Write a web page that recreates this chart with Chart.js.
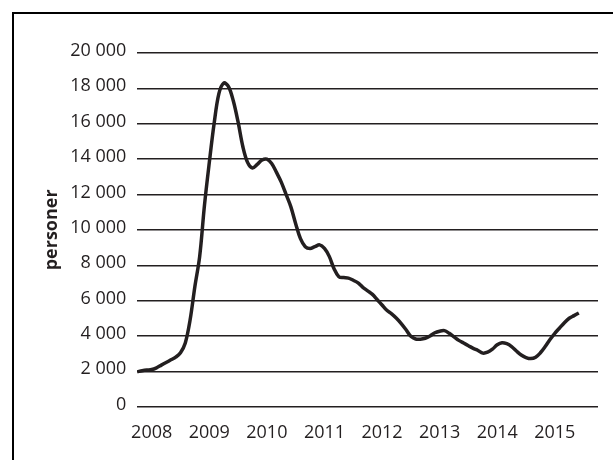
<!DOCTYPE html>
<html>
<head>
<meta charset="utf-8">
<script src="https://cdn.jsdelivr.net/npm/chart.js@4/dist/chart.umd.min.js"></script>
<style>
    html, body { margin: 0; padding: 0; background: #fff; }
    #wrap { position: relative; width: 613px; height: 460px; overflow: hidden; }
    #frame { position: absolute; left: 12px; top: 12px; width: 700px; height: 600px; border: 2px solid #000; }
    #chart { position: absolute; left: 0; top: 0; }
</style>
</head>
<body>
<div id="wrap">
    <div id="frame"></div>
    <canvas id="chart" width="613" height="460"></canvas>
</div>
<script>
// Months on the x axis: Oct 2007 .. Oct 2015
const firstYear = 2007;
const firstMonth = 10;
const monthCount = 97;

// Persons per month, from Oct 2007
const persons = [
    1980, 2030, 2070, 2100, 2200, 2350, 2500, 2650, 2800, 3050,
    3600, 4900, 6800, 8500, 11400, 13800, 16000, 17700, 18300, 18100,
    17300, 16100, 14700, 13800, 13500, 13700, 13950, 14000, 13750, 13250,
    12700, 12000, 11300, 10350, 9500, 9050, 8950, 9050, 9150, 8950,
    8500, 7800, 7350, 7300, 7270, 7150, 7000, 6750, 6550, 6350,
    6050, 5750, 5450, 5250, 5000, 4700, 4350, 3980, 3830, 3820,
    3870, 4000, 4180, 4270, 4300, 4150, 3950, 3750, 3600, 3450,
    3300, 3180, 3030, 3080, 3250, 3500, 3620, 3560, 3400, 3150,
    2920, 2780, 2720, 2800, 3050, 3400, 3800, 4150, 4450, 4750,
    5000, 5150, 5300
];

const yTitle = 'personer';
const yMin = 0;
const yMax = 20000;
const yStep = 2000;

const ink = '#231f20';
const font = "'Open Sans', 'Noto Sans', sans-serif";

// month labels like 2008-01
const months = [];
for (let i = 0; i < monthCount; i++) {
    const m = firstMonth - 1 + i;
    const y = firstYear + Math.floor(m / 12);
    const mm = (m % 12) + 1;
    months.push(y + '-' + (mm < 10 ? '0' + mm : mm));
}

function thousands(v) {
    return String(v).replace(/\B(?=(\d{3})+(?!\d))/g, ' ');
}

new Chart(document.getElementById('chart'), {
    type: 'line',
    data: {
        labels: months,
        datasets: [
            {
                data: persons,
                borderColor: ink,
                borderWidth: 3.5,
                pointRadius: 0,
                tension: 0.35,
                fill: false
            }
        ]
    },
    options: {
        responsive: false,
        animation: false,
        events: [],
        layout: {
            padding: { left: 0, top: 53, right: 15, bottom: 0 }
        },
        plugins: {
            legend: { display: false },
            tooltip: { enabled: false }
        },
        scales: {
            x: {
                type: 'category',
                offset: false,
                grid: { display: false, drawTicks: false },
                border: { display: false },
                ticks: {
                    autoSkip: false,
                    maxRotation: 0,
                    minRotation: 0,
                    padding: 15,
                    color: ink,
                    font: { family: font, size: 18 },
                    callback: function (value, index) {
                        const lbl = months[index];
                        return lbl.slice(5) === '01' ? lbl.slice(0, 4) : '';
                    }
                },
                afterFit: function (scale) {
                    scale.height = 53.3;
                }
            },
            y: {
                min: yMin,
                max: yMax,
                grid: {
                    color: ink,
                    lineWidth: 1.4,
                    drawTicks: false
                },
                border: { display: false },
                ticks: {
                    stepSize: yStep,
                    padding: 11,
                    labelOffset: -2,
                    color: ink,
                    font: { family: font, size: 18 },
                    callback: function (v) {
                        return thousands(v);
                    }
                },
                title: {
                    display: true,
                    text: yTitle,
                    color: ink,
                    padding: { top: 41, bottom: 0 },
                    font: { family: font, size: 18, weight: 'bold' }
                },
                afterFit: function (scale) {
                    scale.width = 137.3;
                }
            }
        }
    }
});
</script>
</body>
</html>
